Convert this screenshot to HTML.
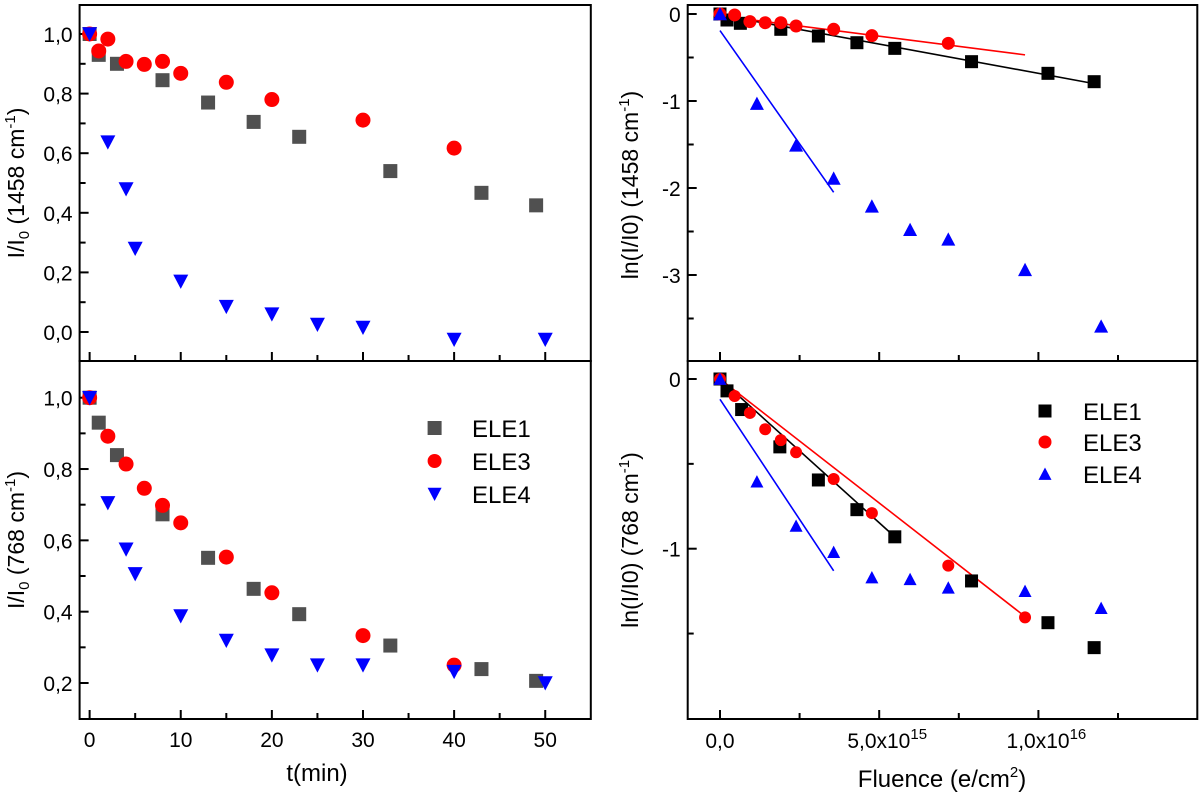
<!DOCTYPE html>
<html><head><meta charset="utf-8"><style>
html,body{margin:0;padding:0;background:#fff;}
svg{display:block;font-family:"Liberation Sans",Arial,sans-serif;}
</style></head><body>
<svg id="fig" width="1200" height="798" viewBox="0 0 1200 798" xmlns="http://www.w3.org/2000/svg"></svg>
<script>
// ---- Data: left panels (time in min) ----
const tA_ele1=[0,1,3,8,13,18,23,33,43,49];
const vA_ele1=[1.0,0.93,0.90,0.845,0.77,0.705,0.655,0.54,0.467,0.425];
const tA_ele3=[0,1,2,4,6,8,10,15,20,30,40];
const vA_ele3=[1.0,0.943,0.983,0.908,0.898,0.908,0.868,0.838,0.78,0.711,0.617];
const tA_ele4=[0,2,4,5,10,15,20,25,30,40,50];
const vA_ele4=[1.0,0.637,0.48,0.28,0.17,0.085,0.06,0.025,0.015,-0.025,-0.025];
const tB_ele1=[0,1,3,8,13,18,23,33,43,49];
const vB_ele1=[1.0,0.93,0.839,0.673,0.551,0.464,0.393,0.305,0.239,0.206];
const tB_ele3=[0,2,4,6,8,10,15,20,30,40];
const vB_ele3=[1.0,0.892,0.814,0.746,0.698,0.649,0.553,0.453,0.333,0.25];
const tB_ele4=[0,2,4,5,10,15,20,25,30,40,50];
const vB_ele4=[1.0,0.705,0.575,0.506,0.388,0.319,0.278,0.25,0.25,0.232,0.2];
// ---- Data: right panels (fluence in 1e15 e/cm2) ----
const fC_ele1=[0,0.22,0.64,1.91,3.09,4.30,5.49,7.9,10.3,11.75];
const vC_ele1=[0,-0.069,-0.107,-0.176,-0.253,-0.33,-0.395,-0.548,-0.682,-0.778];
const fC_ele3=[0,0.46,0.94,1.42,1.91,2.39,3.57,4.77,7.17];
const vC_ele3=[0,-0.011,-0.088,-0.1,-0.1,-0.138,-0.176,-0.249,-0.337];
const fC_ele4=[0,1.16,2.39,3.57,4.77,5.97,7.17,9.58,11.97];
const vC_ele4=[0,-1.03,-1.51,-1.89,-2.21,-2.48,-2.59,-2.94,-3.59];
const fitC_x=[[0,11.75],[0,9.58],[0,3.57]];
const fitC_y=[[-0.01,-0.80],[-0.02,-0.47],[-0.19,-2.05]];
const fD_ele1=[0,0.22,0.68,1.88,3.09,4.30,5.49,7.9,10.3,11.75];
const vD_ele1=[0,-0.07,-0.18,-0.40,-0.595,-0.77,-0.93,-1.19,-1.436,-1.583];
const fD_ele3=[0,0.46,0.94,1.42,1.91,2.39,3.57,4.77,7.17,9.58];
const vD_ele3=[0,-0.1,-0.20,-0.296,-0.36,-0.432,-0.589,-0.79,-1.10,-1.405];
const fD_ele4=[0,1.16,2.39,3.57,4.77,5.97,7.17,9.58,11.97];
const vD_ele4=[0,-0.605,-0.866,-1.02,-1.17,-1.18,-1.23,-1.25,-1.35];
const fitD_x=[[0,5.49],[0,9.58],[0,3.57]];
const fitD_y=[[0,-0.93],[0,-1.40],[-0.12,-1.13]];
const tTicks=[0,10,20,30,40,50];
const fTicks=[0,5,10];
const fTickLabels=["0,0","5,0x10","1,0x10"];
const fTickExp=["","15","16"];

const NS="http://www.w3.org/2000/svg";
const svg=document.getElementById('fig');
function el(tag,attrs,parent){const e=document.createElementNS(NS,tag);for(const k in attrs)e.setAttribute(k,attrs[k]);(parent||svg).appendChild(e);return e;}
function lin(d0,d1,p0,p1){return v=>p0+(v-d0)*(p1-p0)/(d1-d0);}

const LX=lin(-1.1,55,79.6,590.8);
const RX=lin(-1.014,14.99,687.7,1197.3);
const Ay=lin(0,1,332,34);
const By=lin(0.2,1.0,683,397.7);
const Cy=lin(0,-1,14,101);
const Dy=lin(0,-1,379,548.7);
const COL1L='#505050',COL1R='#000',RED='#ff0000',BLUE='#0000ff';
const TF=21, TT=23;

function frame(x0,y0,x1,y1,name){
  const r=el('rect',{x:x0,y:y0,width:x1-x0,height:y1-y0,fill:'none',stroke:'#000','stroke-width':2});
  
}
function ytick(x0,y,len,label,name){
  const t=el('line',{x1:x0,y1:y,x2:x0+len,y2:y,stroke:'#000','stroke-width':2});
  
  if(label!==null){const tx=el('text',{x:x0-7,y:y+8,'text-anchor':'end','font-size':TF});tx.textContent=label;
  }
}
function xtick(x,yb,len){
  const t=el('line',{x1:x,y1:yb,x2:x,y2:yb-len,stroke:'#000','stroke-width':2});
  
}
function marker(type,x,y,s,color,name){
  let m;
  if(type==='sq') m=el('rect',{x:x-s/2,y:y-s/2,width:s,height:s,fill:color});
  else if(type==='ci') m=el('circle',{cx:x,cy:y,r:s/2,fill:color});
  else if(type==='td') m=el('polygon',{points:`${x-s/2},${y-s*0.45} ${x+s/2},${y-s*0.45} ${x},${y+s*0.5}`,fill:color});
  else m=el('polygon',{points:`${x-s/2},${y+s*0.45} ${x+s/2},${y+s*0.45} ${x},${y-s*0.5}`,fill:color});
  
}
function series(type,xs,ys,X,Y,s,color,name){for(let i=0;i<xs.length;i++)marker(type,X(xs[i]),Y(ys[i]),s,color,name);}
function fits(xs,ys,X,Y,colors){
  for(let i=0;i<xs.length;i++){const l=el('line',{x1:X(xs[i][0]),y1:Y(ys[i][0]),x2:X(xs[i][1]),y2:Y(ys[i][1]),stroke:colors[i],'stroke-width':1.6});
  }
}
function ytitle(x,y,main,sub,rest,sup,end,name){
  const t=el('text',{transform:`translate(${x},${y}) rotate(-90)`,'text-anchor':'middle','font-size':TT});
  
  t.innerHTML=main+(sub?`<tspan font-size="15" dy="5">${sub}</tspan><tspan dy="-5">`:'<tspan>')+rest+`</tspan><tspan font-size="15" dy="-9">${sup}</tspan><tspan dy="9">${end}</tspan>`;
}

// ===== Panel A =====
frame(79.6,5,590.8,361,'panel-top-left');
[0,0.2,0.4,0.6,0.8,1.0].forEach(v=>ytick(79.6,Ay(v),9,v.toFixed(1).replace('.',','),'y-tick-label'));
[0.1,0.3,0.5,0.7,0.9].forEach(v=>ytick(79.6,Ay(v),6,null));
tTicks.forEach(t=>xtick(LX(t),361,9));
[5,15,25,35,45].forEach(t=>xtick(LX(t),361,6));
series('sq',tA_ele1,vA_ele1,LX,Ay,14,COL1L,'ele1-point');
series('ci',tA_ele3,vA_ele3,LX,Ay,15,RED,'ele3-point');
series('td',tA_ele4,vA_ele4,LX,Ay,15,BLUE,'ele4-point');
ytitle(24,183,'I/I','0',' (1458 cm','-1',')','y-axis-title-top-left');

// ===== Panel B =====
frame(79.6,361,590.8,719,'panel-bottom-left');
[0.2,0.4,0.6,0.8,1.0].forEach(v=>ytick(79.6,By(v),9,v.toFixed(1).replace('.',','),'y-tick-label'));
[0.3,0.5,0.7,0.9].forEach(v=>ytick(79.6,By(v),6,null));
tTicks.forEach(t=>{xtick(LX(t),719,9);const tx=el('text',{x:LX(t),y:747,'text-anchor':'middle','font-size':TF});tx.textContent=t;
 });
[5,15,25,35,45].forEach(t=>xtick(LX(t),719,6));
series('sq',tB_ele1,vB_ele1,LX,By,14,COL1L,'ele1-point');
series('ci',tB_ele3,vB_ele3,LX,By,15,RED,'ele3-point');
series('td',tB_ele4,vB_ele4,LX,By,15,BLUE,'ele4-point');
ytitle(24,540,'I/I','0',' (768 cm','-1',')','y-axis-title-bottom-left');
{const t=el('text',{x:317,y:781,'text-anchor':'middle','font-size':24});t.textContent='t(min)';
}
[['sq',COL1L,'ELE1',428],['ci',RED,'ELE3',461],['td',BLUE,'ELE4',494]].forEach(d=>{
 marker(d[0],434.6,d[3],14,d[1],'legend-marker');
 const t=el('text',{x:472,y:d[3]+9,'font-size':24});t.textContent=d[2];
 });

// ===== Panel C =====
frame(687.7,5,1197.3,361,'panel-top-right');
[0,-1,-2,-3].forEach(v=>ytick(687.7,Cy(v),9,String(v),'y-tick-label'));
[-0.5,-1.5,-2.5,-3.5].forEach(v=>ytick(687.7,Cy(v),6,null));
[0,5,10].forEach(f=>xtick(RX(f),361,9));
[2.5,7.5,12.5].forEach(f=>xtick(RX(f),361,6));
fits(fitC_x,fitC_y,RX,Cy,['#000',RED,BLUE]);
series('sq',fC_ele1,vC_ele1,RX,Cy,13,COL1R,'ele1-point');
series('ci',fC_ele3,vC_ele3,RX,Cy,13,RED,'ele3-point');
series('tu',fC_ele4,vC_ele4,RX,Cy,14,BLUE,'ele4-point');
ytitle(638,185,'ln(I/I0) (1458 cm','',"",'-1',')','y-axis-title-top-right');

// ===== Panel D =====
frame(687.7,361,1197.3,719,'panel-bottom-right');
[0,-1].forEach(v=>ytick(687.7,Dy(v),9,String(v),'y-tick-label'));
[-0.5,-1.5].forEach(v=>ytick(687.7,Dy(v),6,null));
fTicks.forEach((f,i)=>{xtick(RX(f),719,9);
 const t=el('text',{x:RX(f)+(i?8:0),y:748,'text-anchor':'middle','font-size':TF});
 t.innerHTML=fTickLabels[i]+(fTickExp[i]?`<tspan font-size="15" dy="-9">${fTickExp[i]}</tspan>`:'');
 });
[2.5,7.5,12.5].forEach(f=>xtick(RX(f),719,6));
fits(fitD_x,fitD_y,RX,Dy,['#000',RED,BLUE]);
series('sq',fD_ele1,vD_ele1,RX,Dy,13,COL1R,'ele1-point');
series('ci',fD_ele3,vD_ele3,RX,Dy,12,RED,'ele3-point');
series('tu',fD_ele4,vD_ele4,RX,Dy,13,BLUE,'ele4-point');
ytitle(638,540,'ln(I/I0) (768 cm','',"",'-1',')','y-axis-title-bottom-right');
{const t=el('text',{x:942,y:787,'text-anchor':'middle','font-size':24});
t.innerHTML='Fluence (e/cm<tspan font-size="15" dy="-10">2</tspan><tspan dy="10">)</tspan>';
}
[['sq',COL1R,'ELE1',411],['ci',RED,'ELE3',442],['tu',BLUE,'ELE4',474]].forEach(d=>{
 marker(d[0],1045,d[3],13,d[1],'legend-marker');
 const t=el('text',{x:1083,y:d[3]+9,'font-size':24});t.textContent=d[2];
 });
</script>
</body></html>
